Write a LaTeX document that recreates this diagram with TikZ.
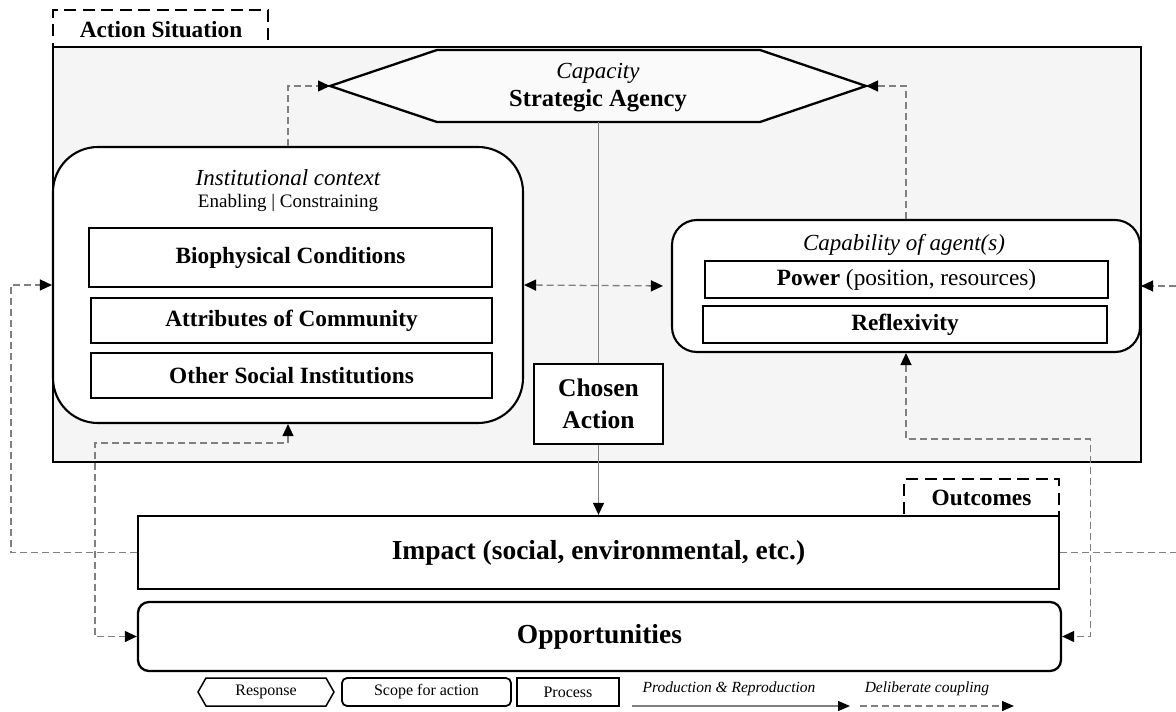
\documentclass[tikz,border=0pt]{standalone}
\usepackage{fontspec}
\setmainfont{Liberation Serif}
\usetikzlibrary{arrows.meta,calc}

\definecolor{framefill}{HTML}{F5F5F5}
\definecolor{hexfill}{HTML}{FAFAFA}
\definecolor{linkgray}{HTML}{808080}

\tikzset{
  tri/.tip={Triangle[length=12pt,width=11pt,color=black]},
  smalltri/.tip={Triangle[length=12pt,width=10pt,color=black]},
  box/.style={draw=black, line width=2.3pt, fill=white, inner sep=0pt, align=center},
  roundbox/.style={box, line width=2.1pt},
  tabbox/.style={draw=black, line width=2.3pt, dash pattern=on 12pt off 6.5pt, fill=white, inner sep=0pt},
  link/.style={draw=linkgray, line width=1.3pt, dash pattern=on 7pt off 4pt},
  solidlink/.style={draw=linkgray, line width=1.2pt},
  bigbold/.style={font=\fontsize{23.3}{27}\selectfont\bfseries},
  hugebold/.style={font=\fontsize{27.5}{31}\selectfont\bfseries},
  titleit/.style={font=\fontsize{23}{27}\selectfont\itshape},
  legendtxt/.style={font=\fontsize{16}{19}\selectfont},
  legendit/.style={font=\fontsize{15.5}{19}\selectfont\itshape},
}

\begin{document}
\begin{tikzpicture}[x=1pt,y=-1pt]
\useasboundingbox (0,0) rectangle (1176,712);
\clip (0,0) rectangle (1176,712);

% --- Action situation frame with its tab
\node[tabbox, minimum width=215, minimum height=37] (astab) at (160.5,28.5) {};
\node[bigbold] (astabtxt) at (161,30) {Action Situation};
\node[draw=black, line width=2pt, fill=framefill, inner sep=0pt,
      minimum width=1088, minimum height=415] (as) at (597,254.5) {};

% --- Strategic agency (response hexagon)
\draw[line width=2.3pt, fill=hexfill, line join=miter]
  (330,86) coordinate (hexL) -- (437,50) -- (760,50) -- (866,86) coordinate (hexR)
  -- (760,122) -- (437,122) -- cycle;
\coordinate (hexB) at (598.5,122);
\node[titleit] (capacity) at (598,73) {Capacity};
\node[font=\fontsize{24.5}{28}\selectfont\bfseries] (agency) at (598,101) {Strategic Agency};

% --- Institutional context
\node[roundbox, rounded corners=45pt, minimum width=470, minimum height=276] (inst) at (288,285) {};
\node[titleit] (insttitle) at (288,178) {Institutional context};
\node[font=\fontsize{19}{22}\selectfont] (instsub) at (288,203) {Enabling | Constraining};
\node[box, bigbold, minimum width=403, minimum height=59] (bio) at (290.5,257.5) {Biophysical Conditions};
\node[box, bigbold, minimum width=401, minimum height=45] (attr) at (291.5,320.5) {Attributes of Community};
\node[box, bigbold, minimum width=401, minimum height=45] (other) at (291.5,375.5) {Other Social Institutions};

% --- Capability of agents
\node[roundbox, rounded corners=25pt, minimum width=468, minimum height=132] (cap) at (906,286) {};
\node[titleit] (captitle) at (904,245) {Capability of agent(s)};
\node[box, font=\fontsize{23.3}{27}\selectfont, minimum width=403, minimum height=37] (power) at (906.5,279.5)
  {\textbf{Power} (position, resources)};
\node[box, bigbold, minimum width=404, minimum height=37] (refl) at (905,324.5) {Reflexivity};

% --- Chosen action
\node[box, line width=2.6pt, font=\fontsize{25.5}{32}\selectfont\bfseries,
      minimum width=129, minimum height=80] (chosen) at (598.5,404) {Chosen\\Action};

% --- Outcomes
\node[tabbox, minimum width=155, minimum height=37] (outtab) at (981.5,497.5) {};
\node[bigbold] (outtxt) at (981.5,498) {Outcomes};
\node[box, hugebold, minimum width=921, minimum height=73] (impact) at (598.5,552.5)
  {Impact (social, environmental, etc.)};
\node[box, hugebold, rounded corners=11pt, minimum width=923, minimum height=69] (opp) at (599.5,636.5)
  {Opportunities};

% --- Production & reproduction links
\draw[solidlink] (hexB) -- (chosen.north);
\draw[solidlink, -tri] (chosen.south) -- (impact.north);

% --- Deliberate coupling links
\draw[link, -tri] (inst.north) |- (hexL);
\draw[link, -tri] (cap.north) |- (hexR);
\draw[link, tri-tri, shorten >=8pt] (inst.east) -- (cap.west);
\draw[link, -tri] (impact.west) -- ++(-126,0) |- (inst.west);
\draw[link, -tri] (impact.east) -- ++(150,0) |- (cap.east);
\draw[link, tri-tri] (inst.south) -- ++(0,19) -| ([xshift=-42pt]opp.west) -- (opp.west);
\draw[link, tri-tri] (cap.south) -- ++(0,86) -| ([xshift=28pt]opp.east) -- (opp.east);

% --- Legend
\draw[line width=1.5pt] (198,692) -- (206,678) -- (326,678) -- (334,692) -- (326,706) -- (206,706) -- cycle;
\node[legendtxt] (lgresp) at (266,692) {Response};
\node[draw=black, line width=1.8pt, rounded corners=5pt, inner sep=0pt, legendtxt,
      minimum width=169, minimum height=28] (lgscope) at (426.5,692) {Scope for action};
\node[draw=black, line width=2.6pt, inner sep=0pt, legendtxt,
      minimum width=102, minimum height=28] (lgproc) at (568,692) {Process};
\node[legendit] (lgprod) at (729,689) {Production \& Reproduction};
\coordinate (prodA) at (632,706);
\coordinate (prodB) at (850,706);
\draw[solidlink, -smalltri] (prodA) -- (prodB);
\node[legendit] (lgdel) at (927,689) {Deliberate coupling};
\coordinate (delA) at (860,706);
\coordinate (delB) at (1014,706);
\draw[link, -smalltri] (delA) -- (delB);
\end{tikzpicture}
\end{document}
